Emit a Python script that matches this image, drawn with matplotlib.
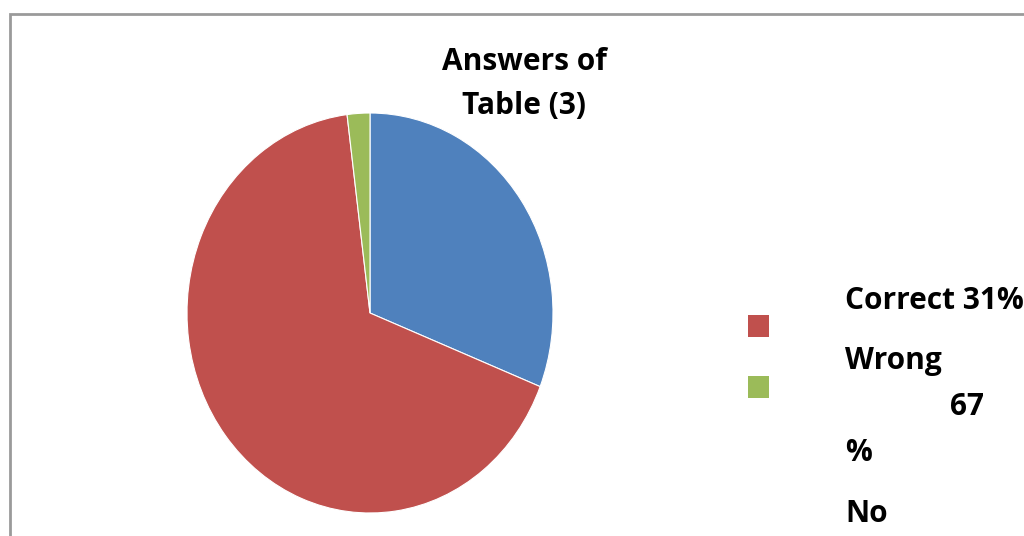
import matplotlib.pyplot as plt
from matplotlib.patches import Rectangle

categories = ["Correct", "Wrong", "No"]
shares = [31, 67, 2]
colors = ["#4F81BD", "#C0504D", "#9BBB59"]
title_lines = ["Answers of", "Table (3)"]

W, H = 1024, 536
fig = plt.figure(figsize=(W / 100, H / 100), dpi=100)
fig.patch.set_facecolor("white")

def fx(px):
    return px / W

def fy(py):
    return 1 - py / H

# chart-area border (runs off the right and bottom edges)
fig.add_artist(Rectangle((fx(10), fy(560)), fx(1040) - fx(10), fy(14) - fy(560),
                         transform=fig.transFigure, fill=False,
                         edgecolor="#9a9a9a", linewidth=2))

ax = fig.add_axes([fx(187), fy(513), 366 / W, 400 / H])
ax.pie(shares, colors=colors, startangle=90, counterclock=False,
       wedgeprops=dict(edgecolor="white", linewidth=0.8))
ax.set_aspect("auto")
ax.set_xlim(-1, 1)
ax.set_ylim(-1, 1)
ax.axis("off")

font = dict(family=["Open Sans", "DejaVu Sans"], fontweight="bold", color="black",
            fontsize=21.5)
for y, s in zip([62, 106], title_lines):
    fig.text(fx(524), fy(y), s, ha="center", va="center", **font)

# legend markers
for y0, c in [(315, colors[1]), (376, colors[2])]:
    fig.add_artist(Rectangle((fx(748), fy(y0 + 22)), 21 / W, 22 / H,
                             transform=fig.transFigure, facecolor=c, edgecolor="none"))

# legend labels, wrapped in a narrow box
legend_lines = [
    (845, 301, f"{categories[0]} {shares[0]}%"),
    (845, 361, categories[1]),
    (950, 407, f"{shares[1]}"),
    (845, 453, "%"),
    (845, 514, categories[2]),
]
for x, y, s in legend_lines:
    fig.text(fx(x), fy(y), s, ha="left", va="center", **font)

fig.savefig("out.png", dpi=100, facecolor="white")
